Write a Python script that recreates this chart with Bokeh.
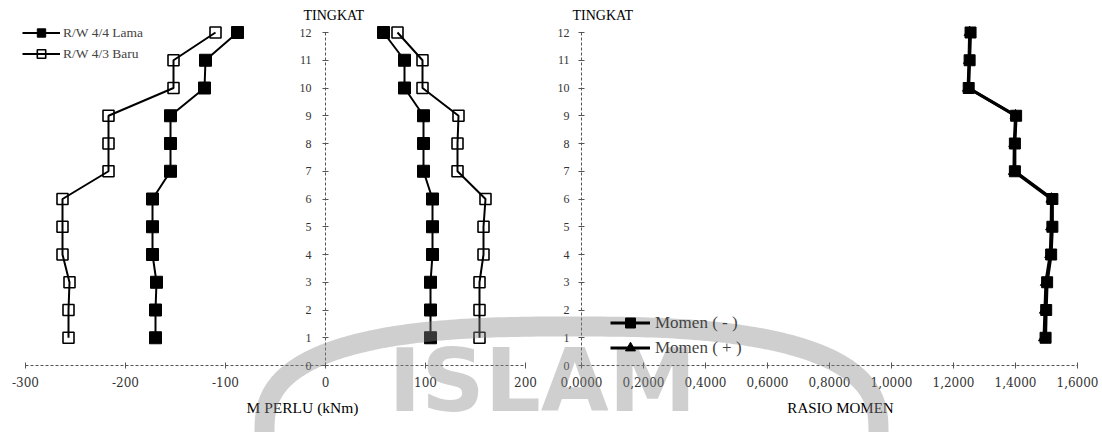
import numpy as np
from bokeh.plotting import figure
from bokeh.models import Range1d, LinearAxis, FixedTicker, Legend, LegendItem, Label
from bokeh.embed import file_html
from bokeh.resources import INLINE

# ---------------- data ----------------
floors = [1, 2, 3, 4, 5, 6, 7, 8, 9, 10, 11, 12]

# M PERLU (kNm), negative moments
lama_neg = [-170, -170, -169, -173, -173, -173, -155, -155, -155, -121, -120, -88]
baru_neg = [-257, -257, -256, -263, -263, -263, -217, -217, -217, -152, -152, -110]
# M PERLU (kNm), positive moments
lama_pos = [105, 105, 105, 107, 107, 107, 98, 98, 98, 79, 79, 58]
baru_pos = [154, 154, 154, 158, 158, 160, 132, 132, 133, 97, 97, 72]

# RASIO MOMEN
rasio_neg = [1.497, 1.499, 1.502, 1.515, 1.519, 1.519, 1.398, 1.398, 1.402, 1.249, 1.252, 1.255]
rasio_pos = [1.492, 1.495, 1.498, 1.512, 1.515, 1.516, 1.395, 1.396, 1.400, 1.247, 1.250, 1.252]

m_ticks = [-300, -200, -100, 0, 100, 200]
m_tick_labels = ["-300", "-200", "-100", "0", "100", "200"]
ratio_ticks = [0.0, 0.2, 0.4, 0.6, 0.8, 1.0, 1.2, 1.4, 1.6]
ratio_tick_labels = ["0,0000", "0,2000", "0,4000", "0,6000", "0,8000",
                     "1,0000", "1,2000", "1,4000", "1,6000"]
floor_ticks = [0, 1, 2, 3, 4, 5, 6, 7, 8, 9, 10, 11, 12]

# ---------------- layout geometry ----------------
W, H = 1102, 432
M0_PX, M_PX_PER = 325.0, 1.0       # page x of M = 0, px per kNm
R0_PX, R_PX_PER = 581.0, 310.0     # page x of ratio = 0, px per unit
F0_PY, F_PX_PER = 365.0, 27.75     # page y of floor 0, px per floor

x_start = -M0_PX / M_PX_PER
x_end = x_start + W / M_PX_PER
r_start = -R0_PX / R_PX_PER
r_end = r_start + W / R_PX_PER
y_end = F0_PY / F_PX_PER
y_start = y_end - H / F_PX_PER


def dx(px):
    return x_start + px / M_PX_PER


def dy(py):
    return y_end - py / F_PX_PER


FONT = "Liberation Serif"

p = figure(width=W, height=H,
           x_range=Range1d(x_start, x_end), y_range=Range1d(y_start, y_end),
           x_axis_location=None, y_axis_location=None,
           toolbar_location=None, output_backend="svg",
           min_border=0, outline_line_color=None,
           background_fill_color="white", border_fill_color="white")
p.extra_x_ranges = {"ratio": Range1d(r_start, r_end)}
p.grid.visible = False


def style_axis(ax, font, size, standoff):
    ax.axis_line_color = "#555555"
    ax.axis_line_dash = "3 2"
    ax.axis_line_width = 1
    ax.major_tick_line_color = "#555555"
    ax.major_tick_in = 3
    ax.major_tick_out = 3
    ax.minor_tick_line_color = None
    ax.major_label_text_font = font
    ax.major_label_text_font_size = size
    ax.major_label_text_color = "#333333"
    ax.major_label_standoff = standoff


ax_mx = LinearAxis(fixed_location=0, bounds=(m_ticks[0], m_ticks[-1]),
                   ticker=FixedTicker(ticks=m_ticks),
                   major_label_overrides=dict(zip(m_ticks, m_tick_labels)))
style_axis(ax_mx, "DejaVu Serif", "12px", 8)
p.add_layout(ax_mx, "below")

ax_my = LinearAxis(fixed_location=0, bounds=(0, 12),
                   ticker=FixedTicker(ticks=floor_ticks))
style_axis(ax_my, FONT, "12px", 11)
p.add_layout(ax_my, "left")

ax_rx = LinearAxis(x_range_name="ratio", fixed_location=0,
                   bounds=(ratio_ticks[0], ratio_ticks[-1]),
                   ticker=FixedTicker(ticks=ratio_ticks),
                   major_label_overrides=dict(zip(ratio_ticks, ratio_tick_labels)))
style_axis(ax_rx, "DejaVu Serif", "12px", 8)
p.add_layout(ax_rx, "below")

ax_ry = LinearAxis(x_range_name="ratio", fixed_location=0, bounds=(0, 12),
                   ticker=FixedTicker(ticks=floor_ticks))
style_axis(ax_ry, FONT, "12px", 9)
p.add_layout(ax_ry, "left")

# ---------------- series ----------------
ln_lama_n = p.line(lama_neg, floors, line_color="black", line_width=2)
sc_lama_n = p.scatter(lama_neg, floors, marker="square", size=12,
                      fill_color="black", line_color="black")
ln_baru_n = p.line(baru_neg, floors, line_color="black", line_width=2)
sc_baru_n = p.scatter(baru_neg, floors, marker="square", size=11,
                      fill_alpha=0, line_color="black", line_width=1.6)
ln_lama_p = p.line(lama_pos, floors, line_color="black", line_width=2)
sc_lama_p = p.scatter(lama_pos, floors, marker="square", size=12,
                      fill_color="black", line_color="black")
ln_baru_p = p.line(baru_pos, floors, line_color="black", line_width=2)
sc_baru_p = p.scatter(baru_pos, floors, marker="square", size=11,
                      fill_alpha=0, line_color="black", line_width=1.6)

ln_rn = p.line(rasio_neg, floors, x_range_name="ratio", line_color="black", line_width=3)
sc_rn = p.scatter(rasio_neg, floors, x_range_name="ratio", marker="square", size=11,
                  fill_color="black", line_color="black")
ln_rp = p.line(rasio_pos, floors, x_range_name="ratio", line_color="black", line_width=3)
sc_rp = p.scatter(rasio_pos, floors, x_range_name="ratio", marker="triangle", size=11,
                  fill_color="black", line_color="black")

# ---------------- legends ----------------
leg1 = Legend(items=[LegendItem(label="R/W 4/4 Lama", renderers=[ln_lama_n, sc_lama_n]),
                     LegendItem(label="R/W 4/3 Baru", renderers=[ln_baru_n, sc_baru_n])],
              location=(22, 368), padding=0, margin=0, spacing=0,
              glyph_width=38, glyph_height=21, label_height=21, label_standoff=3,
              label_text_font=FONT, label_text_font_size="13.5px",
              border_line_color=None, background_fill_alpha=0)
p.add_layout(leg1)

leg2 = Legend(items=[LegendItem(label="Momen ( - )", renderers=[ln_rn, sc_rn]),
                     LegendItem(label="Momen ( + )", renderers=[ln_rp, sc_rp])],
              location=(610, 72), padding=0, margin=0, spacing=0,
              glyph_width=40, glyph_height=25, label_height=25, label_standoff=5,
              label_text_font=FONT, label_text_font_size="17px",
              border_line_color=None, background_fill_alpha=0)
p.add_layout(leg2)

# ---------------- titles ----------------
for txt, px, py, size, align in [("TINGKAT", 303, 15, "14px", "left"),
                                 ("TINGKAT", 572, 15, "14px", "left"),
                                 ("M PERLU (kNm)", 302, 407, "15.5px", "center"),
                                 ("RASIO MOMEN", 840, 407, "15px", "center")]:
    p.add_layout(Label(x=dx(px), y=dy(py), text=txt, text_font=FONT,
                       text_font_size=size, text_align=align,
                       text_baseline="middle", text_color="black"))

# ---------------- watermark (decoration) ----------------
WM_COLOR, WM_ALPHA = "#888888", 0.4
t = np.linspace(0, 2 * np.pi, 400)
n_exp = 2.7
ring_px = 571 + 307 * np.sign(np.cos(t)) * np.abs(np.cos(t)) ** (2 / n_exp)
ring_py = 432 - 106 * np.sign(np.sin(t)) * np.abs(np.sin(t)) ** (2 / n_exp)
p.line([dx(v) for v in ring_px], [dy(v) for v in ring_py], line_color=WM_COLOR,
       line_alpha=WM_ALPHA, line_width=20, level="overlay")
p.add_layout(Label(x=dx(542), y=dy(380), text="ISLAM", text_font="DejaVu Sans",
                   text_font_style="bold", text_font_size="88px", text_align="center",
                   text_baseline="middle", text_color=WM_COLOR,
                   text_alpha=WM_ALPHA, level="overlay"))

open("out.html", "w").write(file_html(p, INLINE))
